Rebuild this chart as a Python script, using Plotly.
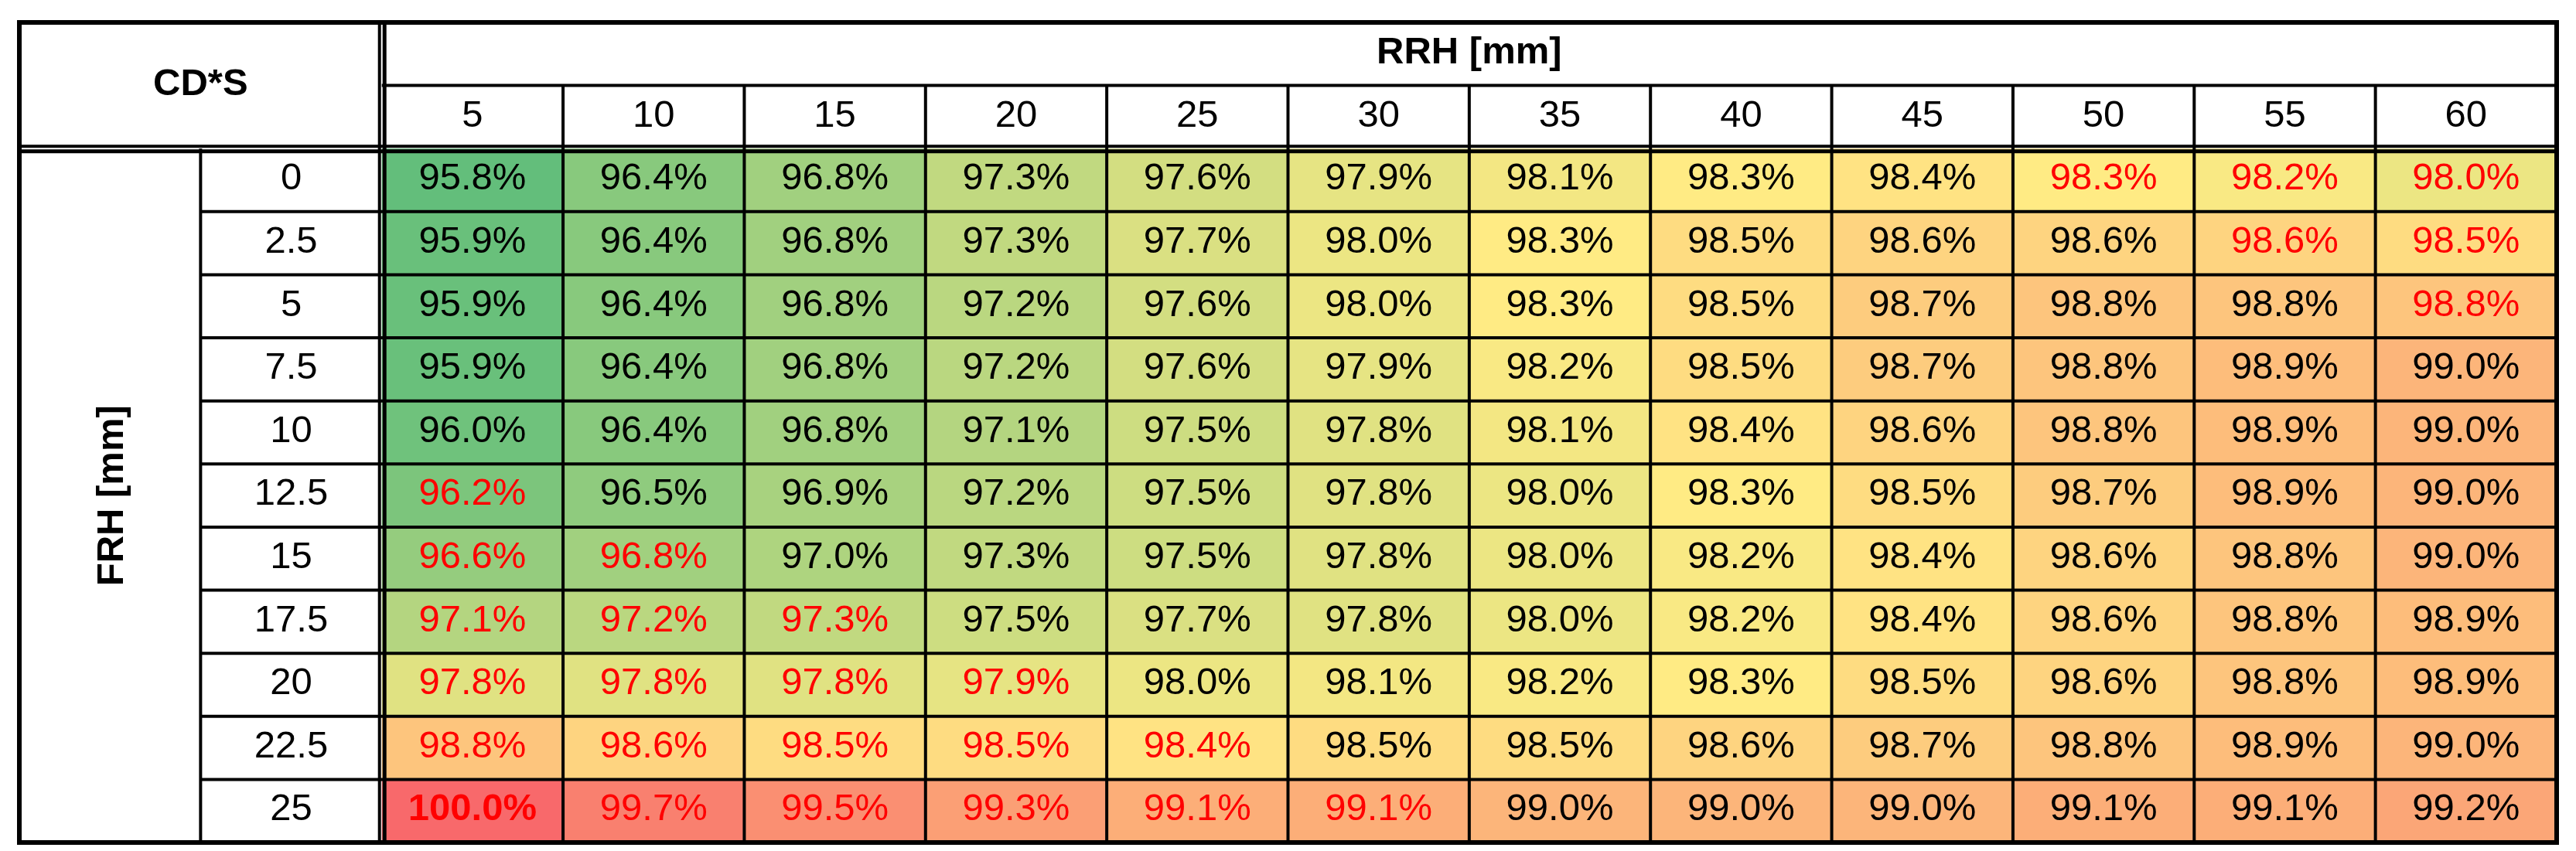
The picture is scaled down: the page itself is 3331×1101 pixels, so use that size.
import numpy as np
import plotly.graph_objects as go

# ---------------- data ----------------
rrh_labels = ["5", "10", "15", "20", "25", "30", "35", "40", "45", "50", "55", "60"]
frh_labels = ["0", "2.5", "5", "7.5", "10", "12.5", "15", "17.5", "20", "22.5", "25"]

row_0 = [95.8, 96.4, 96.8, 97.3, 97.6, 97.9, 98.1, 98.3, 98.4, 98.3, 98.2, 98.0]
row_2_5 = [95.9, 96.4, 96.8, 97.3, 97.7, 98.0, 98.3, 98.5, 98.6, 98.6, 98.6, 98.5]
row_5 = [95.9, 96.4, 96.8, 97.2, 97.6, 98.0, 98.3, 98.5, 98.7, 98.8, 98.8, 98.8]
row_7_5 = [95.9, 96.4, 96.8, 97.2, 97.6, 97.9, 98.2, 98.5, 98.7, 98.8, 98.9, 99.0]
row_10 = [96.0, 96.4, 96.8, 97.1, 97.5, 97.8, 98.1, 98.4, 98.6, 98.8, 98.9, 99.0]
row_12_5 = [96.2, 96.5, 96.9, 97.2, 97.5, 97.8, 98.0, 98.3, 98.5, 98.7, 98.9, 99.0]
row_15 = [96.6, 96.8, 97.0, 97.3, 97.5, 97.8, 98.0, 98.2, 98.4, 98.6, 98.8, 99.0]
row_17_5 = [97.1, 97.2, 97.3, 97.5, 97.7, 97.8, 98.0, 98.2, 98.4, 98.6, 98.8, 98.9]
row_20 = [97.8, 97.8, 97.8, 97.9, 98.0, 98.1, 98.2, 98.3, 98.5, 98.6, 98.8, 98.9]
row_22_5 = [98.8, 98.6, 98.5, 98.5, 98.4, 98.5, 98.5, 98.6, 98.7, 98.8, 98.9, 99.0]
row_25 = [100.0, 99.7, 99.5, 99.3, 99.1, 99.1, 99.0, 99.0, 99.0, 99.1, 99.1, 99.2]

values = [row_0, row_2_5, row_5, row_7_5, row_10, row_12_5,
          row_15, row_17_5, row_20, row_22_5, row_25]

# cells whose value is printed in red
red_0 = [0, 0, 0, 0, 0, 0, 0, 0, 0, 1, 1, 1]
red_2_5 = [0, 0, 0, 0, 0, 0, 0, 0, 0, 0, 1, 1]
red_5 = [0, 0, 0, 0, 0, 0, 0, 0, 0, 0, 0, 1]
red_7_5 = [0] * 12
red_10 = [0] * 12
red_12_5 = [1, 0, 0, 0, 0, 0, 0, 0, 0, 0, 0, 0]
red_15 = [1, 1, 0, 0, 0, 0, 0, 0, 0, 0, 0, 0]
red_17_5 = [1, 1, 1, 0, 0, 0, 0, 0, 0, 0, 0, 0]
red_20 = [1, 1, 1, 1, 0, 0, 0, 0, 0, 0, 0, 0]
red_22_5 = [1, 1, 1, 1, 1, 0, 0, 0, 0, 0, 0, 0]
red_25 = [1, 1, 1, 1, 1, 1, 0, 0, 0, 0, 0, 0]
red_mask = [red_0, red_2_5, red_5, red_7_5, red_10, red_12_5,
            red_15, red_17_5, red_20, red_22_5, red_25]

corner_label = "CD*S"
col_title = "RRH [mm]"
row_title = "FRH [mm]"

# ---------------- styling ----------------
W, H = 3331, 1101
FONT = "Liberation Sans, Arial, sans-serif"
FS = 49
GREEN, YELLOW, RED = "rgb(99,190,123)", "rgb(255,235,132)", "rgb(248,105,107)"

z = np.array(values)
nrows, ncols = z.shape
zmin, zmax = z.min(), z.max()
zmid = np.percentile(z, 50)
mid = (zmid - zmin) / (zmax - zmin)

# table geometry (px)
tab_l, tab_r, tab_t, tab_b = 17, 3298, 21, 1082
pad = 8
x0, x1 = -2.5, ncols - 0.5
y0, y1 = -2.5, nrows - 0.5
ppx = (tab_r - tab_l) / (x1 - x0)
ppy = (tab_b - tab_t) / (y1 - y0)
px_pad, py_pad = pad / ppx, pad / ppy

fig = go.Figure()

fig.add_trace(go.Heatmap(
    z=z, x=list(range(ncols)), y=list(range(nrows)),
    colorscale=[[0, GREEN], [mid, YELLOW], [1, RED]],
    zmin=zmin, zmax=zmax, showscale=False, hoverinfo="skip",
))

# cell texts
tx, ty, tt, tc = [], [], [], []
for i in range(nrows):
    for j in range(ncols):
        v = values[i][j]
        s = f"{v:.1f}%"
        if v == zmax:
            s = f"<b>{s}</b>"
        tx.append(j); ty.append(i); tt.append(s)
        tc.append("#FF0000" if red_mask[i][j] else "#000000")
fig.add_trace(go.Scatter(
    x=tx, y=ty, text=tt, mode="text", textposition="middle center",
    textfont=dict(family=FONT, size=FS, color=tc), hoverinfo="skip",
    cliponaxis=False,
))

# header labels
fig.add_trace(go.Scatter(
    x=list(range(ncols)), y=[-1] * ncols, text=rrh_labels, mode="text",
    textposition="middle center", textfont=dict(family=FONT, size=FS, color="black"),
    hoverinfo="skip", cliponaxis=False,
))
fig.add_trace(go.Scatter(
    x=[-1] * nrows, y=list(range(nrows)), text=frh_labels, mode="text",
    textposition="middle center", textfont=dict(family=FONT, size=FS, color="black"),
    hoverinfo="skip", cliponaxis=False,
))
fig.add_trace(go.Scatter(
    x=[-1.5, (ncols - 1) / 2], y=[-1.5, -2],
    text=[f"<b>{corner_label}</b>", f"<b>{col_title}</b>"], mode="text",
    textposition="middle center", textfont=dict(family=FONT, size=FS, color="black"),
    hoverinfo="skip", cliponaxis=False,
))
fig.add_annotation(
    x=-2, y=(nrows - 1) / 2, text=f"<b>{row_title}</b>", textangle=-90,
    showarrow=False, font=dict(family=FONT, size=FS, color="black"),
    xanchor="center", yanchor="middle",
)

# grid lines
shapes = []
def line(xa, ya, xb, yb, w, color="black"):
    shapes.append(dict(type="line", xref="x", yref="y", x0=xa, y0=ya, x1=xb, y1=yb,
                       line=dict(color=color, width=w), layer="above"))

INNER = 4
# data column separators (through column-number row)
for j in range(ncols - 1):
    line(j + 0.5, -1.5, j + 0.5, y1, INNER)
# data row separators (through row-label column)
for i in range(nrows - 1):
    line(-1.5, i + 0.5, x1, i + 0.5, INNER)
# line under RRH title
line(-0.5, -1.5, x1, -1.5, INNER)
# line between FRH title and row labels
line(-1.5, -0.5, -1.5, y1, INNER)
# double lines (two thin black lines with a narrow gap)
dyA, dyB = -3.0 / ppy, 3.5 / ppy
dxA, dxB = -3.0 / ppx, 3.5 / ppx
line(x0, -0.5 + dyA, x1, -0.5 + dyA, 4)
line(x0, -0.5 + dyB, x1, -0.5 + dyB, 5)
line(-0.5 + dxA, y0, -0.5 + dxA, y1, 4)
line(-0.5 + dxB, y0, -0.5 + dxB, y1, 5)
# outer border
shapes.append(dict(type="rect", xref="x", yref="y", x0=x0, y0=y0, x1=x1, y1=y1,
                   line=dict(color="black", width=6), layer="above"))

fig.update_layout(
    width=W, height=H,
    margin=dict(l=tab_l - pad, r=W - tab_r - pad, t=tab_t - pad, b=H - tab_b - pad, pad=0),
    paper_bgcolor="white", plot_bgcolor="white",
    showlegend=False, shapes=shapes,
    xaxis=dict(range=[x0 - px_pad, x1 + px_pad], visible=False, fixedrange=True),
    yaxis=dict(range=[y1 + py_pad, y0 - py_pad], visible=False, fixedrange=True),
)

fig.write_html("out.html")
